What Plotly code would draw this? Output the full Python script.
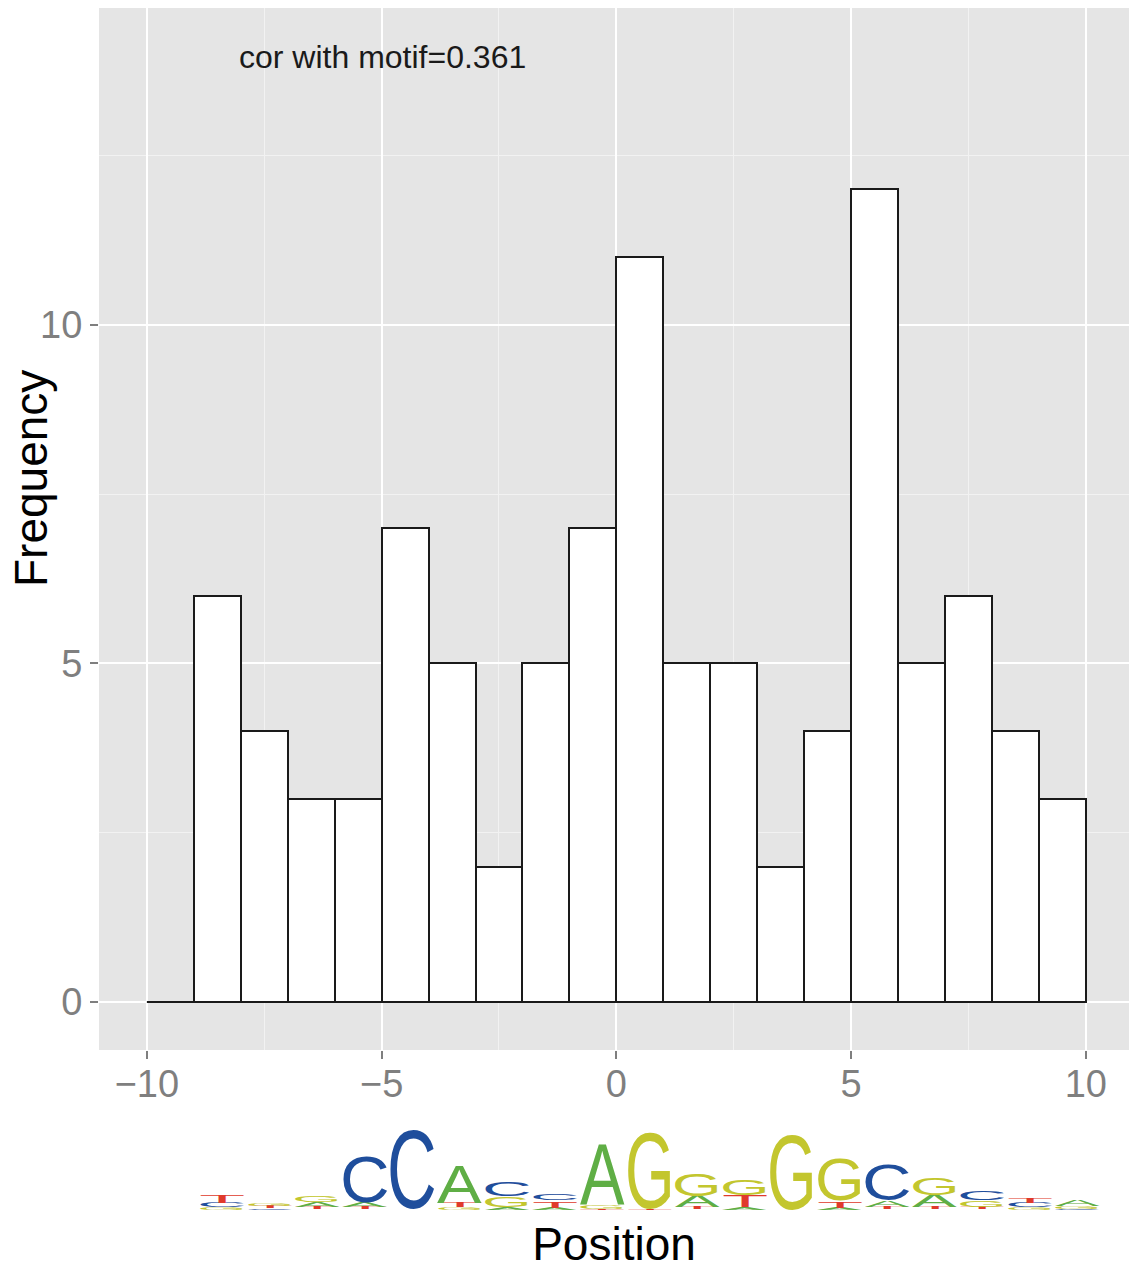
import json
import plotly.graph_objects as go

# ---------------- data ----------------
bin_left = [-10, -9, -8, -7, -6, -5, -4, -3, -2, -1, 0, 1, 2, 3, 4, 5, 6, 7, 8, 9]
counts = [0, 6, 4, 3, 3, 7, 5, 2, 5, 7, 11, 5, 5, 2, 4, 12, 5, 6, 4, 3]
bin_width = 1

x_ticks = [-10, -5, 0, 5, 10]
y_ticks = [0, 5, 10]
cor_label = "cor with motif=0.361"
x_title = "Position"
y_title = "Frequency"

# sequence logo: letters per column (bottom -> top) and their heights (bits)
logo_letters = ["GCT", "CTG", "TAG", "TAC", "C", "GTA", "AGC", "ATC", "TGA", "TG",
                "TAG", "ATG", "G", "ATG", "TAC", "TAG", "TGC", "GCT", "CGA"]
logo_bits = [
    [0.05, 0.12, 0.19],
    [0.04, 0.05, 0.06],
    [0.05, 0.12, 0.17],
    [0.05, 0.12, 1.16],
    [1.98],
    [0.07, 0.12, 0.94],
    [0.05, 0.27, 0.36],
    [0.05, 0.17, 0.17],
    [0.03, 0.10, 1.49],
    [0.04, 1.92],
    [0.05, 0.27, 0.55],
    [0.05, 0.29, 0.41],
    [1.88],
    [0.05, 0.17, 1.06],
    [0.05, 0.17, 0.89],
    [0.05, 0.31, 0.43],
    [0.05, 0.17, 0.24],
    [0.05, 0.12, 0.12],
    [0.03, 0.05, 0.17],
]

# ---------------- styling / geometry ----------------
W, H = 1129, 1270
M_L, M_R, M_T, M_B = 99, 0, 8, 220
PLOT_TOP, PLOT_BOTTOM = M_T, H - M_B
PLOT_H = PLOT_BOTTOM - PLOT_TOP

letter_colors = {"A": "#5fae45", "C": "#1f4e9c", "G": "#c3c62e", "T": "#e03a2b"}
ink_width = {"A": 0.66, "C": 0.64, "G": 0.69, "T": 0.58}   # em
cap_height = {"A": 0.716, "C": 0.74, "G": 0.74, "T": 0.716}  # em
LOGO_X0, LOGO_STEP = -8.4, 1.012
LOGO_BASE_PX = 1211
PX_PER_BIT = 41.5
LETTER_W_PX = 44

FONT = "Liberation Sans, Arial, Helvetica, sans-serif"
GREY = "#7f7f7f"


def px_to_paper_y(px):
    return (PLOT_BOTTOM - px) / PLOT_H


fig = go.Figure()

fig.add_trace(go.Bar(
    x=[l + bin_width / 2 for l in bin_left],
    y=counts,
    width=bin_width,
    marker=dict(color="white", line=dict(color="#1a1a1a", width=2)),
    showlegend=False,
    hoverinfo="x+y",
))

# empty bins are drawn as a flat line at zero (like ggplot)
for l, c in zip(bin_left, counts):
    if c == 0:
        fig.add_trace(go.Scatter(
            x=[l, l + bin_width], y=[0, 0], mode="lines",
            line=dict(color="#1a1a1a", width=2), showlegend=False, hoverinfo="skip",
        ))

annotations = []
annotations.append(dict(
    x=-4.99, y=13.96, xref="x", yref="y", text=cor_label, showarrow=False,
    font=dict(family=FONT, size=32, color="#1a1a1a"), xanchor="center", yanchor="middle",
))
annotations.append(dict(
    x=-0.066, y=px_to_paper_y(479), xref="paper", yref="paper", text=y_title,
    showarrow=False, textangle=-90,
    font=dict(family=FONT, size=46, color="black"), xanchor="center", yanchor="middle",
))

stretch = {}
for i, (letters, bits) in enumerate(zip(logo_letters, logo_bits)):
    xc = LOGO_X0 + i * LOGO_STEP
    cum = 0.0
    for L, b in zip(letters, bits):
        h_px = b * PX_PER_BIT
        fs = LETTER_W_PX / ink_width[L]
        center_px = LOGO_BASE_PX - (cum + h_px / 2)
        cum += h_px
        stretch[str(len(annotations))] = [h_px / (cap_height[L] * fs), fs]
        annotations.append(dict(
            x=xc, y=px_to_paper_y(center_px), xref="x", yref="paper", text=L,
            showarrow=False, xanchor="center", yanchor="middle",
            font=dict(family=FONT, size=fs, color=letter_colors[L]),
        ))

fig.update_layout(
    width=W, height=H,
    margin=dict(l=M_L, r=M_R, t=M_T, b=M_B),
    paper_bgcolor="white",
    plot_bgcolor="#E5E5E5",
    bargap=0,
    showlegend=False,
    annotations=annotations,
    font=dict(family=FONT),
    xaxis=dict(
        range=[-11.02, 10.92], tickmode="array", tickvals=x_ticks,
        ticks="outside", ticklen=8, tickwidth=2, tickcolor=GREY,
        ticklabelstandoff=-8,
        tickfont=dict(family=FONT, size=38, color=GREY),
        showgrid=True, gridcolor="white", gridwidth=2,
        minor=dict(tickmode="array", tickvals=[-7.5, -2.5, 2.5, 7.5], showgrid=True,
                   gridcolor="#F2F2F2", gridwidth=1, ticks=""),
        zeroline=False, showline=False, automargin=False,
        title=dict(text=x_title, font=dict(family=FONT, size=46, color="black"), standoff=126),
    ),
    yaxis=dict(
        range=[-0.71, 14.68], tickmode="array", tickvals=y_ticks,
        ticks="outside", ticklen=8, tickwidth=2, tickcolor=GREY,
        tickfont=dict(family=FONT, size=38, color=GREY),
        showgrid=True, gridcolor="white", gridwidth=2,
        minor=dict(tickmode="array", tickvals=[2.5, 7.5, 12.5], showgrid=True,
                   gridcolor="#F2F2F2", gridwidth=1, ticks=""),
        zeroline=False, showline=False, automargin=False,
    ),
)

# stretch logo glyphs vertically so each letter height encodes its information content
post_js = """
var gd = document.getElementById('{plot_id}');
var SC = """ + json.dumps(stretch) + """;
function stretchLogo(){
  var groups = gd.querySelectorAll('g.annotation');
  for (var i = 0; i < groups.length; i++) {
    var g = groups[i];
    var idx = g.getAttribute('data-index');
    if (!(idx in SC)) continue;
    var t = g.querySelector('text.annotation-text');
    if (!t) continue;
    var fs = parseFloat(t.style.fontSize) || SC[idx][1];
    var y = parseFloat(t.getAttribute('y'));
    var cy;
    if (isNaN(y)) { var bb = t.getBBox(); cy = bb.y + bb.height / 2; }
    else { cy = y - 0.365 * fs; }
    var s = SC[idx][0];
    t.setAttribute('transform', 'translate(0,' + cy + ') scale(1,' + s + ') translate(0,' + (-cy) + ')');
  }
}
stretchLogo();
gd.on('plotly_afterplot', stretchLogo);
"""

fig.write_html("out.html", post_script=post_js)
